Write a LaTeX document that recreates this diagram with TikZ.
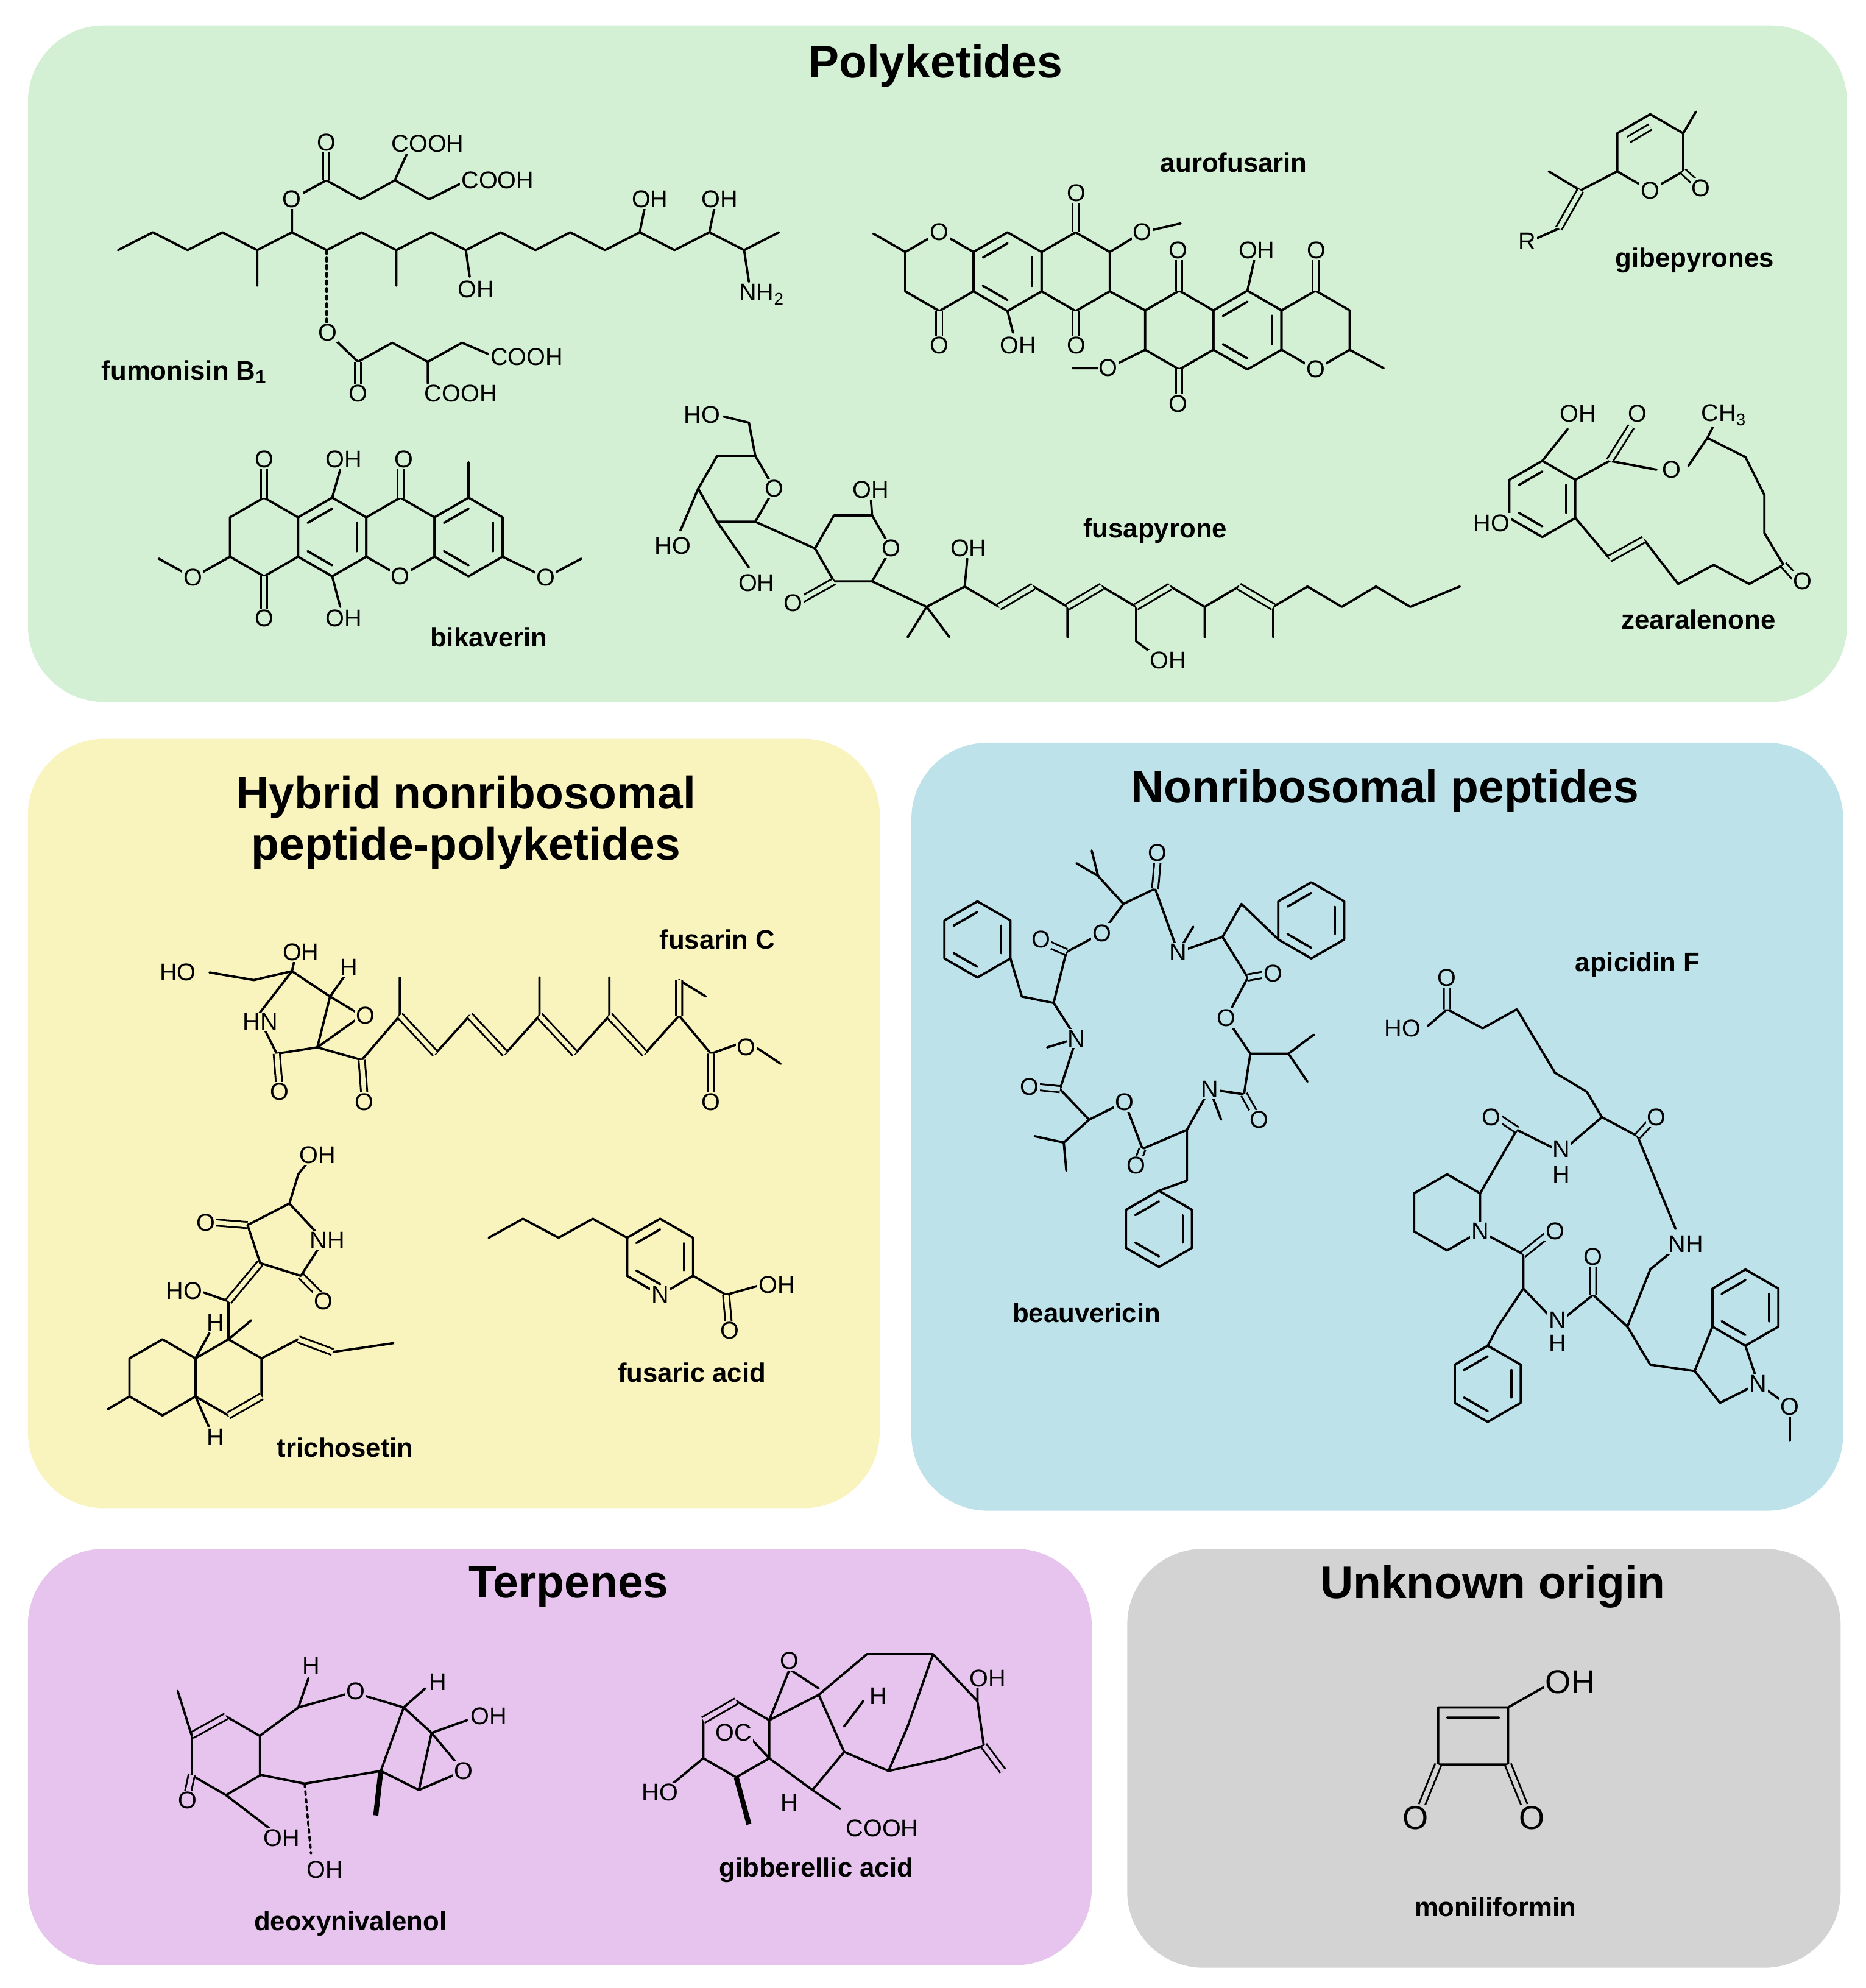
\documentclass[tikz,border=0pt]{standalone}
\usepackage{fontspec}
\setmainfont{Liberation Sans}
\usetikzlibrary{calc}
\definecolor{pk}{HTML}{D4F0D4}
\definecolor{hy}{HTML}{F9F3BE}
\definecolor{nr}{HTML}{BEE2EA}
\definecolor{te}{HTML}{E6C4EE}
\definecolor{un}{HTML}{D3D3D3}
\colorlet{bg}{pk}
\newcounter{at}
\tikzset{
 box/.style={rounded corners=60pt,draw=none},
 title/.style={font=\bfseries\fontsize{36}{40}\selectfont,align=center},
 cname/.style={font=\bfseries\fontsize{21}{24}\selectfont},
 bond/.style={line width=1.8pt,line join=round,line cap=round},
 dbond/.style={line width=1.4pt,draw=black,double=bg,double distance=3.5pt},
 atom/.style={font=\fontsize{19}{20}\selectfont,inner sep=1pt,fill=bg},
}
\newcommand\hexr[4]{\draw[bond] (#1,#2) +(#4:#3) -- +(#4+60:#3) -- +(#4+120:#3) -- +(#4+180:#3) -- +(#4+240:#3) -- +(#4+300:#3) -- cycle;}
\newcommand\benz[4]{\hexr{#1}{#2}{#3}{#4}\foreach \k in {0,2,4}{\draw[bond] ($(#1,#2)+(#4+60*\k:0.72*#3)$) -- ($(#1,#2)+(#4+60*\k+60:0.72*#3)$);}}
\newcommand\atom[3]{\stepcounter{at}\node[atom] (a\theat) at (#1,#2) {#3};}
\begin{document}
\begin{tikzpicture}[x=1pt,y=-1pt]
\useasboundingbox (0,0) rectangle (1470,1566);
\fill[white] (0,0) rectangle (1470,1566);
\fill[pk,box] (22,20) rectangle (1455,553);
\fill[hy,box] (22,582) rectangle (693,1188);
\fill[nr,box] (718,585) rectangle (1452,1190);
\fill[te,box] (22,1220) rectangle (860,1548);
\fill[un,box] (888,1220) rectangle (1450,1550);
\node[title] (t1) at (737,52) {Polyketides};
\node[title] (t2) at (367,648) {Hybrid nonribosomal\\peptide-polyketides};
\node[title] (t3) at (1091,623) {Nonribosomal peptides};
\node[title] (t4) at (448,1250) {Terpenes};
\node[title] (t5) at (1176,1250) {Unknown origin};
% ---------- Polyketides
\colorlet{bg}{pk}
% fumonisin
\draw[bond] (93,197) \foreach \k in {1,...,19}{ -- ({93+27.4*\k},{197-14*mod(\k,2)}) };
\draw[bond] (202.6,197)--(202.6,225) (230,183)--(230,160) (312.2,197)--(312.2,225) (367,197)--(370,218) (504,183)--(508,163) (558.8,183)--(563,163) (586.2,197)--(590,222);
\draw[bond,dashed] (257.4,197)--(257.4,255);
\draw[bond] (230,157)--(257,142)--(284,157)--(311,142)--(322,118) (311,142)--(338,157)--(362,145);
\draw[dbond] (257,142)--(257,115);
\draw[bond] (258,262)--(282,285)--(309,270)--(337,285)--(337,302) (337,285)--(364,270)--(385,279);
\draw[dbond] (282,285)--(282,306);
\atom{230}{157}{O}\atom{257}{112}{O}\atom{337}{113}{COOH}\atom{392}{142}{COOH}
\atom{258}{262}{O}\atom{282}{310}{O}\atom{363}{310}{COOH}\atom{415}{281}{COOH}
\atom{512}{157}{OH}\atom{567}{157}{OH}\atom{375}{228}{OH}\atom{600}{232}{NH\textsubscript{2}}
\node[cname] (n1) at (145,293) {fumonisin B\textsubscript{1}};
% aurofusarin
\hexr{740}{214}{31}{90}\benz{793.7}{214}{31}{90}\hexr{847.4}{214}{31}{90}
\hexr{929}{260}{31}{90}\benz{982.7}{260}{31}{90}\hexr{1036.4}{260}{31}{90}
\draw[bond] (713.2,198.5)--(688,184) (874.2,198.5)--(900,183)--(930,176) (874.2,229.5)--(902.2,244.5) (902.2,275.5)--(873,290)--(845,290) (982.7,229)--(988,205) (1063.2,275.5)--(1090,290) (793.7,245)--(798,262);
\draw[dbond] (740,245)--(740,265) (847.4,183)--(847.4,160) (847.4,245)--(847.4,265) (929,229)--(929,205) (929,291)--(929,312) (1036.4,229)--(1036.4,205);
\atom{740}{183}{O}\atom{740}{272}{O}\atom{802}{272}{OH}\atom{848}{152}{O}\atom{848}{272}{O}\atom{900}{183}{O}
\atom{928}{197}{O}\atom{990}{197}{OH}\atom{1037}{197}{O}\atom{928}{318}{O}\atom{873}{290}{O}\atom{1036.4}{291}{O}
\node[cname] (n2) at (972,128) {aurofusarin};
% gibepyrones
\hexr{1300}{120}{30}{90}
\draw[bond] (1326,105)--(1336,88) (1274,135)--(1245,150)--(1220,135) (1228,180)--(1210,188);
\draw[dbond] (1326,135)--(1340,148) (1245,150)--(1228,180) (1283,110)--(1300,100);
\atom{1300}{150}{O}\atom{1340}{148}{O}\atom{1203}{190}{R}
\node[cname] (n3) at (1335,205) {gibepyrones};
% bikaverin
\hexr{208}{423}{31}{90}\benz{261.7}{423}{31}{90}\hexr{315.4}{423}{31}{90}\benz{369.1}{423}{31}{90}
\draw[bond] (181.2,438.5)--(152,455)--(125,440) (261.7,392)--(268,370) (261.7,454)--(268,478) (369.1,392)--(369.1,364) (395.9,438.5)--(430,455)--(458,440);
\draw[dbond] (208,392)--(208,368) (208,454)--(208,480) (315.4,392)--(315.4,368);
\atom{208}{362}{O}\atom{271}{362}{OH}\atom{318}{362}{O}\atom{208}{487}{O}\atom{271}{487}{OH}\atom{315.4}{454}{O}\atom{152}{455}{O}\atom{430}{455}{O}
\node[cname] (n4) at (385,502) {bikaverin};
% fusapyrone
\hexr{580}{385}{30}{0}\hexr{672}{432}{30}{0}
\draw[bond] (595,359)--(590,333)--(570,328) (550,385)--(536,418) (565,411)--(590,447) (595,411)--(642,432) (687,406)--(686,392) (687,458)--(730,478)--(715,502) (730,478)--(748,502) (730,478)--(760,462)--(762,440);
\draw[bond] (760,462)--(787,478) (814,462)--(841,478)--(841,502) (868,462)--(895,478)--(895,505)--(912,518) (922,462)--(949,478)--(949,502) (949,478)--(976,462) (1003,478)--(1003,502) (1003,478)--(1030,462)--(1057,478)--(1084,462)--(1111,478)--(1150,462);
\draw[dbond] (787,478)--(814,462) (841,478)--(868,462) (895,478)--(922,462) (976,462)--(1003,478) (657,458)--(632,472);
\atom{553}{327}{HO}\atom{610}{385}{O}\atom{530}{430}{HO}\atom{596}{459}{OH}\atom{686}{386}{OH}\atom{702}{432}{O}\atom{625}{475}{O}\atom{763}{432}{OH}\atom{920}{520}{OH}
\node[cname] (n5) at (910,418) {fusapyrone};
% zearalenone
\benz{1215}{393}{30}{90}
\draw[bond] (1215,363)--(1235,338) (1241,378)--(1268,363)--(1305,370) (1330,367)--(1345,345)--(1350,335) (1345,345)--(1375,360)--(1390,390)--(1390,420)--(1405,445) (1241,408)--(1268,440) (1295,425)--(1322,460)--(1350,445)--(1378,460)--(1405,445) (1189,408)--(1182,411);
\draw[dbond] (1268,363)--(1285,336) (1268,440)--(1295,425) (1405,445)--(1415,456);
\atom{1243}{326}{OH}\atom{1290}{326}{O}\atom{1317}{370}{O}\atom{1358}{327}{CH\textsubscript{3}}\atom{1175}{412}{HO}\atom{1420}{458}{O}
\node[cname] (n6) at (1338,488) {zearalenone};
% ---------- Hybrid
\colorlet{bg}{hy}
\draw[bond] (230,765)--(260,785)--(250,825)--(218,830)--(203,800)--cycle;
\draw[bond] (260,785)--(285,800)--(250,825) (260,785)--(272,768) (230,765)--(233,752) (230,765)--(200,772)--(165,766) (250,825)--(285,835)--(315,800);
\draw[dbond] (218,830)--(220,855) (285,835)--(287,862);
\draw[bond] (343,830)--(370,800) (398,830)--(425,800) (453,830)--(480,800) (508,830)--(535,800)--(560,830)--(588,820)--(615,838) (315,800)--(315,770) (425,800)--(425,770) (480,800)--(480,770) (535,772)--(556,785);
\draw[dbond] (315,800)--(343,830) (370,800)--(398,830) (425,800)--(453,830) (480,800)--(508,830) (535,800)--(535,772) (560,830)--(560,860);
\atom{140}{766}{HO}\atom{237}{750}{OH}\atom{275}{762}{H}\atom{205}{805}{HN}\atom{288}{800}{O}\atom{220}{860}{O}\atom{287}{868}{O}\atom{560}{868}{O}\atom{588}{825}{O}
\node[cname] (n7) at (565,740) {fusarin C};
% trichosetin
\hexr{128}{1085}{30}{90}\hexr{180}{1085}{30}{90}
\draw[dbond] (206,1100)--(180,1115);
\draw[bond] (102,1100)--(85,1110) (154,1070)--(165,1050) (154,1100)--(165,1125) (180,1055)--(198,1040) (180,1055)--(180,1025)--(160,1018) (206,1070)--(235,1055) (262,1065)--(310,1058);
\draw[dbond] (235,1055)--(262,1065) (180,1025)--(205,995) (195,965)--(170,963) (237,1005)--(252,1020);
\draw[bond] (205,995)--(195,965)--(228,948)--(255,977)--(237,1005)--cycle (228,948)--(235,925)--(245,912);
\atom{145}{1017}{HO}\atom{170}{1042}{H}\atom{170}{1132}{H}\atom{162}{963}{O}\atom{258}{977}{NH}\atom{255}{1025}{O}\atom{250}{910}{OH}
\node[cname] (n8) at (272,1140) {trichosetin};
% fusaric acid
\benz{520}{990}{30}{90}
\draw[bond] (494,975)--(467,960)--(440,975)--(412,960)--(385,975) (546,1005)--(572,1020)--(600,1012);
\draw[dbond] (572,1020)--(574,1042);
\atom{520}{1020}{N}\atom{575}{1048}{O}\atom{612}{1012}{OH}
\node[cname] (n9) at (545,1081) {fusaric acid};
% ---------- NRP
\colorlet{bg}{nr}
\draw[bond] (868,735)--(885,712)--(910,700)--(928,750)--(963,738)--(983,770)--(966,802)--(985,830)--(980,862)--(953,858)--(935,890)--(900,905)--(886,868)--(858,882)--(835,858)--(848,818)--(830,790)--(840,750)--cycle;
\draw[dbond] (910,700)--(912,677) (983,770)--(1000,767) (980,862)--(990,880) (900,905)--(895,918) (835,858)--(815,856) (840,750)--(822,742);
\draw[bond] (928,750)--(940,730) (848,818)--(825,825) (953,858)--(962,882) (885,712)--(865,690)--(848,680) (865,690)--(860,670) (985,830)--(1015,830)--(1035,815) (1015,830)--(1030,852) (858,882)--(838,900)--(815,895) (838,900)--(840,922) (830,790)--(805,785)--(796,755) (963,738)--(978,712)--(1007,740) (935,890)--(935,930)--(913,938);
\benz{770}{740}{30}{90}\benz{1033}{725}{30}{90}\benz{913}{968}{30}{90}
\atom{868}{735}{O}\atom{912}{672}{O}\atom{928}{750}{N}\atom{1003}{767}{O}\atom{966}{802}{O}\atom{992}{882}{O}\atom{953}{858}{N}\atom{895}{918}{O}\atom{886}{868}{O}\atom{811}{856}{O}\atom{848}{818}{N}\atom{820}{740}{O}
\node[cname] (n10) at (856,1034) {beauvericin};
% apicidin F
\hexr{1140}{955}{30}{90}\benz{1172}{1090}{30}{90}\benz{1375}{1030}{30}{90}
\draw[bond] (1140,795)--(1125,808) (1140,795)--(1168,810)--(1195,795)--(1210,820)--(1225,845)--(1250,860)--(1262,880)--(1290,895)--(1320,968) (1262,880)--(1235,903) (1225,905)--(1195,890)--(1166,940) (1166,970)--(1200,988)--(1200,1015)--(1180,1045)--(1172,1060) (1200,1015)--(1222,1038) (1230,1040)--(1255,1020)--(1282,1045)--(1300,1000)--(1318,985) (1282,1045)--(1300,1075)--(1335,1080) (1349,1045)--(1335,1080)--(1355,1105)--(1385,1090)--(1375,1060) (1385,1090)--(1410,1108)--(1410,1135);
\draw[dbond] (1140,795)--(1140,775) (1290,895)--(1302,882) (1195,890)--(1180,880) (1200,988)--(1220,972) (1255,1020)--(1255,995);
\atom{1140}{770}{O}\atom{1105}{810}{HO}\atom{1305}{880}{O}\atom{1230}{905}{N}\atom{1230}{925}{H}\atom{1175}{880}{O}\atom{1166}{970}{N}\atom{1225}{970}{O}\atom{1227}{1040}{N}\atom{1227}{1058}{H}\atom{1255}{990}{O}\atom{1328}{980}{NH}\atom{1385}{1090}{N}\atom{1410}{1108}{O}
\node[cname] (n11) at (1290,760) {apicidin F};
% ---------- Terpenes
\colorlet{bg}{te}
\hexr{178}{1383}{31}{90}
\draw[dbond] (151,1367)--(178,1352);
\draw[bond] (205,1367)--(235,1345)--(278,1333)--(318,1345)--(300,1395)--(240,1405)--(205,1398) (318,1345)--(340,1365)--(330,1410)--(300,1395) (340,1365)--(365,1395)--(330,1410) (151,1367)--(140,1332) (178,1414)--(212,1440) (235,1345)--(243,1322) (318,1345)--(335,1330) (340,1365)--(368,1355);
\draw[line width=4pt] (300,1395)--(296,1430);
\draw[bond,dashed] (240,1405)--(245,1460);
\draw[dbond] (151,1398)--(148,1412);
\atom{245}{1312}{H}\atom{280}{1332}{O}\atom{345}{1325}{H}\atom{385}{1352}{OH}\atom{365}{1395}{O}\atom{148}{1418}{O}\atom{222}{1448}{OH}\atom{256}{1473}{OH}
\node[cname] (n12) at (276,1515) {deoxynivalenol};
\hexr{580}{1370}{30}{90}
\draw[dbond] (554,1355)--(580,1340);
\draw[bond] (606,1355)--(645,1335)--(665,1380)--(640,1410)--(606,1385) (645,1335)--(683,1303)--(735,1303)--(770,1340)--(775,1375)--(745,1385)--(700,1395)--(665,1380) (735,1303)--(715,1360)--(700,1395) (606,1355)--(622,1315)--(645,1330) (554,1385)--(530,1405) (640,1410)--(662,1425) (665,1360)--(680,1340) (770,1340)--(770,1328) (592,1370)--(606,1385);
\draw[line width=4pt] (580,1400)--(590,1437);
\draw[dbond] (775,1375)--(790,1395);
\atom{622}{1308}{O}\atom{692}{1336}{H}\atom{778}{1322}{OH}\atom{578}{1365}{OC}\atom{520}{1412}{HO}\atom{622}{1420}{H}\atom{695}{1440}{COOH}
\node[cname] (n13) at (643,1473) {gibberellic acid};
% ---------- Unknown
\colorlet{bg}{un}
\draw[bond] (1133,1345)--(1188,1345)--(1188,1390)--(1133,1390)--cycle (1140,1353)--(1181,1353) (1188,1345)--(1218,1328);
\draw[dbond] (1133,1390)--(1120,1422) (1188,1390)--(1201,1422);
\node[atom,font=\fontsize{26}{26}\selectfont] (m1) at (1237,1325) {OH};
\node[atom,font=\fontsize{26}{26}\selectfont] (m2) at (1115,1432) {O};
\node[atom,font=\fontsize{26}{26}\selectfont] (m3) at (1207,1432) {O};
\node[cname] (n14) at (1178,1502) {moniliformin};
\end{tikzpicture}
\end{document}
